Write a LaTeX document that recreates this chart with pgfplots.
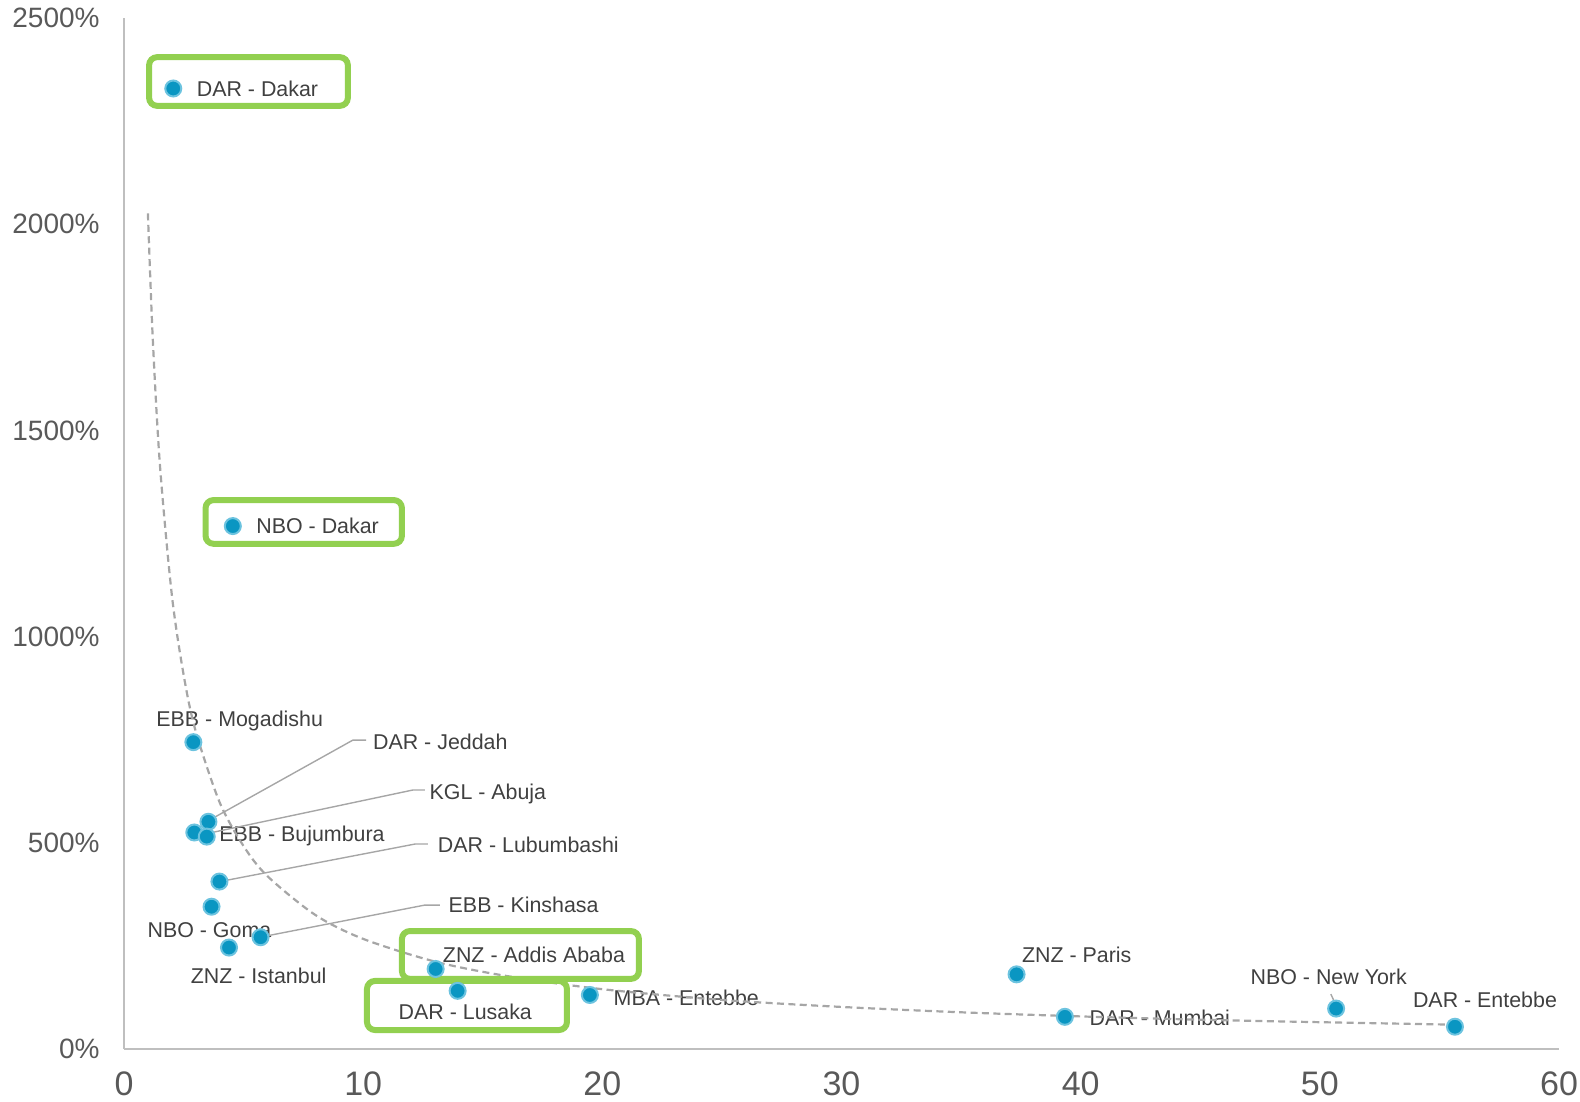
\documentclass[border=0pt]{standalone}
\usepackage{pgfplots}
\pgfplotsset{compat=1.18}
\usepackage{fontspec}
\setmainfont{Liberation Sans}
\definecolor{pt}{HTML}{0A96C2}
\definecolor{ptedge}{HTML}{6CC3DF}
\definecolor{grn}{HTML}{92D050}
\definecolor{lbl}{HTML}{404040}
\definecolor{tck}{HTML}{595959}
\definecolor{axl}{HTML}{BFBFBF}
\definecolor{trd}{HTML}{A6A6A6}
\newcommand{\lblfont}{\fontsize{10.7}{12}\selectfont}
\begin{document}
\begin{tikzpicture}[lab/.style={anchor=base west, inner sep=0pt, yshift=-3.8pt, font=\lblfont, text=lbl},
  lead/.style={draw=trd, line width=0.7pt}]
\useasboundingbox (-62pt,-26.5pt) rectangle (728pt,524.5pt);
\begin{axis}[
 scale only axis, width=717.5pt, height=515.5pt,
 xmin=0, xmax=60, ymin=0, ymax=2500,
 axis x line=bottom, axis y line=left,
 axis line style={-, draw=axl, line width=1pt},
 xtick={0,10,...,60}, ytick={0,500,...,2500},
 major tick length=0pt, tick style={draw=none},
 scaled y ticks=false, scaled x ticks=false,
 /pgf/number format/assume math mode=true,
 /pgf/number format/1000 sep={},
 yticklabel={\pgfmathprintnumber{\tick}\%},
 xticklabel style={font=\fontsize{17}{19}\selectfont, text=tck, inner sep=0pt, anchor=north, yshift=-11pt},
 yticklabel style={font=\fontsize{14}{16}\selectfont, text=tck, inner sep=0pt, anchor=east, xshift=-12pt},
 clip=false,
]
% labels
\node[lab] at (axis cs:3.03,2329) {DAR - Dakar};
\node[lab] at (axis cs:5.52,1268) {NBO - Dakar};
\node[lab] at (axis cs:1.34,800) {EBB - Mogadishu};
\node[lab] at (axis cs:10.40,745) {DAR - Jeddah};
\node[lab] at (axis cs:12.76,624) {KGL - Abuja};
\node[lab] at (axis cs:3.97,521) {EBB - Bujumbura};
\node[lab] at (axis cs:13.11,495) {DAR - Lubumbashi};
\node[lab] at (axis cs:13.56,349) {EBB - Kinshasa};
\node[lab] at (axis cs:0.97,290) {NBO - Goma};
\node[lab] at (axis cs:2.78,178) {ZNZ - Istanbul};
\node[lab] at (axis cs:13.32,228) {ZNZ - Addis Ababa};
\node[lab] at (axis cs:11.47,90) {DAR - Lusaka};
\node[lab] at (axis cs:20.46,125) {MBA - Entebbe};
\node[lab] at (axis cs:37.53,227) {ZNZ - Paris};
\node[lab] at (axis cs:47.09,176) {NBO - New York};
\node[lab] at (axis cs:40.36,76) {DAR - Mumbai};
\node[lab] at (axis cs:53.88,120) {DAR - Entebbe};
% leader lines
\draw[lead] (axis cs:3.51,553) -- (axis cs:9.57,749) -- (axis cs:10.12,749);
\draw[lead] (axis cs:3.60,524) -- (axis cs:12.08,628) -- (axis cs:12.58,628);
\draw[lead] (axis cs:4.01,406) -- (axis cs:12.17,497) -- (axis cs:12.71,497);
\draw[lead] (axis cs:5.77,272) -- (axis cs:12.58,349) -- (axis cs:13.21,349);
\draw[lead] (axis cs:50.46,133) -- (axis cs:50.67,107);
% trend line
\addplot[draw=trd, line width=1.1pt, dash pattern=on 3.5pt off 2.2pt, smooth, forget plot] coordinates {
 (1.0,2026) (1.2,1726) (1.5,1418) (2,1101) (2.5,905) (3,770) (4,598) (5,492) (6,419)
 (8,325) (10,267) (13,212) (16,177) (20,145) (25,119) (30,102) (35,89) (40,79)
 (45,71) (50,65) (55.65,59)};
% highlight boxes
\draw[grn, line width=3pt, rounded corners=4pt] (axis cs:1.05,2287) rectangle (axis cs:9.36,2405);
\draw[grn, line width=3pt, rounded corners=4pt] (axis cs:3.41,1225) rectangle (axis cs:11.62,1331);
\draw[grn, line width=3pt, rounded corners=4pt] (axis cs:11.62,170) rectangle (axis cs:21.53,286);
\draw[grn, line width=3pt, rounded corners=4pt] (axis cs:10.16,46) rectangle (axis cs:18.52,165);
% points
\addplot[only marks, mark=*, mark size=4pt, mark options={fill=pt, draw=ptedge, line width=1pt}] coordinates {
 (2.06,2329) (4.55,1268) (2.90,744) (3.53,551) (2.94,525) (3.46,515) (3.99,406)
 (3.66,345) (5.71,271) (4.39,246) (13.03,194) (13.95,141) (19.48,131)
 (37.32,181) (39.34,78) (50.68,98) (55.65,54)};
\end{axis}
\end{tikzpicture}
\end{document}
